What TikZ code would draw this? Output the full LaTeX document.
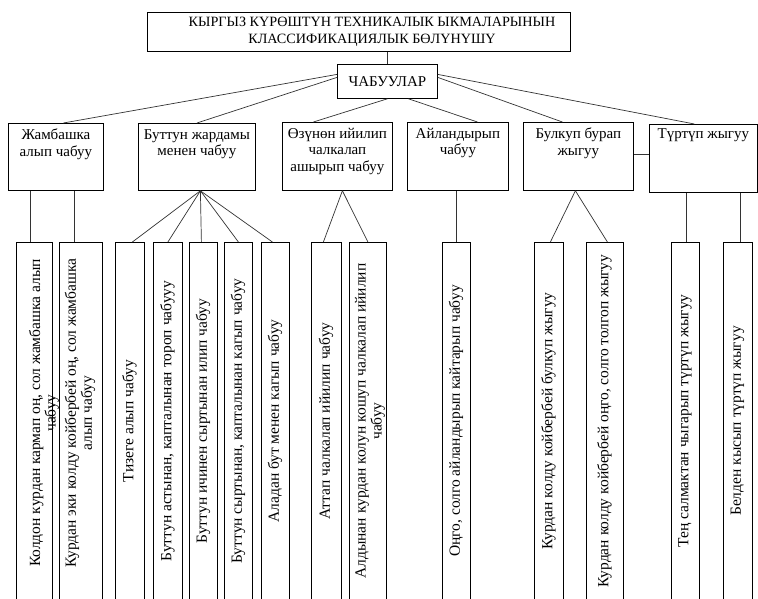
\documentclass[tikz,border=0pt]{standalone}
\usepackage{fontspec}
\setmainfont{Liberation Serif}
\begin{document}
\begin{tikzpicture}[x=1pt,y=-1pt,
  font=\fontsize{15}{17}\selectfont,
  box/.style={draw=black, line width=0.8pt, inner sep=0pt, anchor=north west},
  leafbox/.style={box, minimum height=360pt},
  cattext/.style={anchor=north, align=center, inner sep=0pt, font=\fontsize{15}{16.5}\selectfont},
  leaftext/.style={rotate=90, align=center, inner sep=0pt, font=\fontsize{15.5}{16}\selectfont},
  conn/.style={draw=black!80, line width=0.7pt}]
\useasboundingbox (0,0) rectangle (758,599);
\clip (0,0) rectangle (758,599);
\fill[white] (0,0) rectangle (758,599);

% title and root
\node[box, minimum width=423pt, minimum height=39pt] (title) at (147,12) {};
\node[align=center, inner sep=0pt, font=\fontsize{14.2}{17.5}\selectfont] (titletext) at (372,32) {КЫРГЫЗ КҮРӨШТҮН ТЕХНИКАЛЫК ЫКМАЛАРЫНЫН\\КЛАССИФИКАЦИЯЛЫК БӨЛҮНҮШҮ};
\node[box, minimum width=100pt, minimum height=34pt] (root) at (337,64) {ЧАБУУЛАР};

% categories
\node[box, minimum width=95pt,  minimum height=67pt] (c1) at (8,123) {};
\node[box, minimum width=117pt, minimum height=67pt] (c2) at (138,123) {};
\node[box, minimum width=110pt, minimum height=68pt] (c3) at (282,122) {};
\node[box, minimum width=101pt, minimum height=68pt] (c4) at (407,122) {};
\node[box, minimum width=110pt, minimum height=68pt] (c5) at (523,122) {};
\node[box, minimum width=108pt, minimum height=68pt] (c6) at (649,124) {};

\node[cattext] (c1t) at ([yshift=-6pt]c1.north) {Жамбашка\\алып чабуу};
\node[cattext] (c2t) at ([yshift=-6pt]c2.north) {Буттун жардамы\\менен чабуу};
\node[cattext] (c3t) at ([yshift=-6pt]c3.north) {Өзүнөн ийилип\\чалкалап\\ашырып чабуу};
\node[cattext] (c4t) at ([yshift=-6pt]c4.north) {Айландырып\\чабуу};
\node[cattext] (c5t) at ([yshift=-6pt]c5.north) {Булкуп бурап\\жыгуу};
\node[cattext] (c6t) at ([yshift=-4pt]c6.north) {Түртүп жыгуу};

% leaves
\node[leafbox, minimum width=36pt] (l1)  at (16,242) {};
\node[leafbox, minimum width=43pt] (l2)  at (59,242) {};
\node[leafbox, minimum width=29pt] (l3)  at (115,242) {};
\node[leafbox, minimum width=29pt] (l4)  at (153,242) {};
\node[leafbox, minimum width=28pt] (l5)  at (189,242) {};
\node[leafbox, minimum width=28pt] (l6)  at (224,242) {};
\node[leafbox, minimum width=28pt] (l7)  at (261,242) {};
\node[leafbox, minimum width=30pt] (l8)  at (311,242) {};
\node[leafbox, minimum width=37pt] (l9)  at (349,242) {};
\node[leafbox, minimum width=28pt] (l10) at (442,242) {};
\node[leafbox, minimum width=29pt] (l11) at (534,242) {};
\node[leafbox, minimum width=37pt] (l12) at (586,242) {};
\node[leafbox, minimum width=28pt] (l13) at (671,242) {};
\node[leafbox, minimum width=29pt] (l14) at (723,242) {};

\node[leaftext, font=\fontsize{15.5}{11}\selectfont] (t1) at (44,413) {Колдон курдан кармап оң, сол жамбашка алып\\чабуу};
\node[leaftext] (t2)  at (80,413)  {Курдан эки колду койбербей оң, сол жамбашка\\алып чабуу};
\node[leaftext] (t3)  at (129.5,421) {Тизеге алып чабуу};
\node[leaftext] (t4)  at (167.5,421) {Буттун астынан, капталынан тороп чабууу};
\node[leaftext] (t5)  at (203,421) {Буттун ичинен сыртынан илип чабуу};
\node[leaftext] (t6)  at (238,421) {Буттун сыртынан, капталынан кагып чабуу};
\node[leaftext] (t7)  at (275,421) {Аладан бут менен кагып чабуу};
\node[leaftext] (t8)  at (326,421) {Аттап чалкалап ийилип чабуу};
\node[leaftext] (t9)  at (370,421) {Алдынан курдан колун кошуп чалкалап ийилип\\чабуу};
\node[leaftext] (t10) at (456,421) {Оңго, солго айландырып кайтарып чабуу};
\node[leaftext] (t11) at (548.5,421) {Курдан колду койбербей булкуп жыгуу};
\node[leaftext] (t12) at (604.5,421) {Курдан колду койбербей оңго, солго толгоп жыгуу};
\node[leaftext] (t13) at (685,421) {Тең салмактан чыгарып түртүп жыгуу};
\node[leaftext] (t14) at (737.5,421) {Белден кысып түртүп жыгуу};

% connectors: title - root
\draw[conn] (root.north |- title.south) -- (root.north);
% root - categories
\draw[conn] ([yshift=7pt]root.west) -- ([xshift=7.5pt]c1.north);
\draw[conn] ([yshift=4pt]root.west) -- (c2.north);
\draw[conn] (root.south) -- ([xshift=-24pt]c3.north);
\draw[conn] ([xshift=21pt]root.south) -- ([xshift=19.5pt]c4.north);
\draw[conn] ([yshift=4pt]root.east) -- ([xshift=-16pt]c5.north);
\draw[conn] ([yshift=7pt]root.east) -- ([xshift=-9pt]c6.north);
\draw[conn] ([yshift=2pt]c5.east) -- ([yshift=2pt]c5.east -| c6.west);

% categories - leaves
\draw[conn] ([xshift=-4pt]l1.north) -- ([xshift=-4pt]l1.north |- c1.south);
\draw[conn] ([xshift=-6.5pt]l2.north) -- ([xshift=-6.5pt]l2.north |- c1.south);
\foreach \l/\s in {l3/2.5, l4/0, l5/-2, l6/0, l7/-3}
  \draw[conn] ([xshift=3.5pt]c2.south) -- ([xshift=\s pt]\l.north);
\draw[conn] ([xshift=5pt]c3.south) -- ([xshift=-3pt]l8.north);
\draw[conn] ([xshift=5pt]c3.south) -- (l9.north);
\draw[conn] (l10.north) -- (l10.north |- c4.south);
\draw[conn] ([xshift=-3pt]c5.south) -- ([xshift=1.5pt]l11.north);
\draw[conn] ([xshift=-3pt]c5.south) -- ([xshift=2.5pt]l12.north);
\draw[conn] ([xshift=1pt]l13.north) -- ([xshift=1pt]l13.north |- c6.south);
\draw[conn] ([xshift=2.5pt]l14.north) -- ([xshift=2.5pt]l14.north |- c6.south);
\end{tikzpicture}
\end{document}
